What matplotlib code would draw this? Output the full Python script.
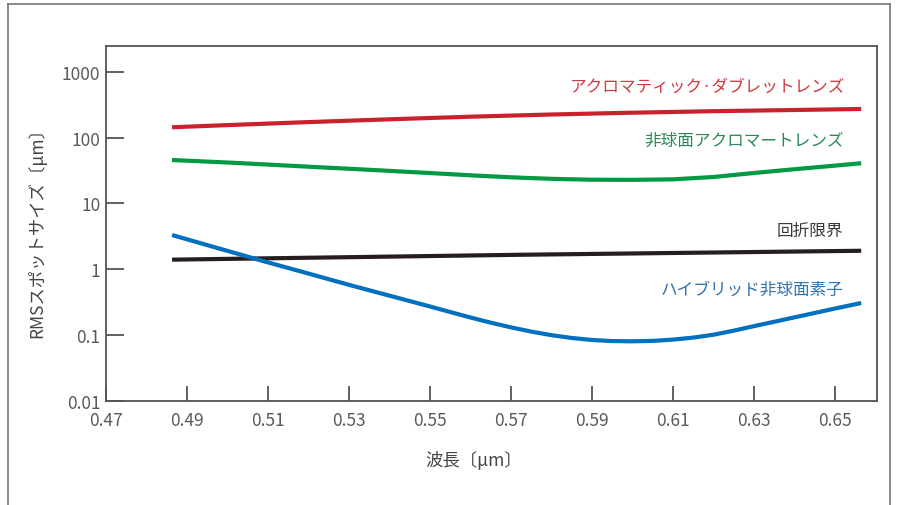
import matplotlib
matplotlib.use("Agg")
import matplotlib.pyplot as plt
from matplotlib.lines import Line2D

plt.rcParams['font.family'] = ['Noto Sans CJK JP', 'DejaVu Sans']

# wavelength (um) and RMS spot size (um)
wl_red = [0.4863, 0.50, 0.52, 0.54, 0.56, 0.58, 0.60, 0.62, 0.64, 0.6564]
doublet = [143.2, 154.6, 171.7, 189.3, 207.4, 224, 238.5, 251.4, 262.1, 271.5]

wl_green = [0.4863, 0.50, 0.51, 0.52, 0.53, 0.54, 0.55, 0.56, 0.57, 0.58,
            0.59, 0.60, 0.61, 0.62, 0.63, 0.64, 0.65, 0.6564]
asph_achromat = [45.6, 41.8, 38.9, 36.1, 33.6, 31.2, 28.9, 26.7, 24.9, 23.6,
                 22.9, 22.8, 23.2, 25.2, 29.0, 33.1, 37.5, 40.7]

wl_black = [0.4863, 0.5722, 0.6564]
diffraction = [1.40, 1.66, 1.91]

wl_blue = [0.4863, 0.49, 0.50, 0.51, 0.52, 0.53, 0.54, 0.55, 0.555, 0.56,
           0.565, 0.57, 0.575, 0.58, 0.585, 0.59, 0.595, 0.60, 0.605, 0.61,
           0.615, 0.62, 0.625, 0.63, 0.635, 0.64, 0.645, 0.65, 0.6564]
hybrid = [3.31, 2.85, 1.90, 1.27, 0.86, 0.58, 0.397, 0.272, 0.224, 0.185,
          0.1545, 0.131, 0.1131, 0.0998, 0.0905, 0.0844, 0.0812, 0.0806, 0.0818, 0.0856,
          0.0918, 0.1016, 0.1172, 0.1372, 0.160, 0.1866, 0.2177, 0.2539, 0.3076]

xticks = [0.47, 0.49, 0.51, 0.53, 0.55, 0.57, 0.59, 0.61, 0.63, 0.65]
yticks = [0.01, 0.1, 1, 10, 100, 1000]
ytick_labels = ['0.01', '0.1', '1', '10', '100', '1000']

fig = plt.figure(figsize=(9.03, 5.06), dpi=100)
ax = fig.add_axes([106 / 903, 1 - 402 / 506, 771 / 903, 355 / 506])

ax.plot(wl_red, doublet, color='#c8232c', lw=3, solid_capstyle='butt')
ax.plot(wl_green, asph_achromat, color='#009944', lw=3, solid_capstyle='butt')
ax.plot(wl_black, diffraction, color='#251e1c', lw=3, solid_capstyle='butt')
ax.plot(wl_blue, hybrid, color='#0070bf', lw=3, solid_capstyle='butt')

ax.set_yscale('log')
ax.set_xlim(0.47, 0.6603)
ax.set_ylim(0.01, 2455)
ax.set_xticks(xticks)
ax.set_xticklabels([f'{v:.2f}' for v in xticks])
ax.set_yticks(yticks)
ax.set_yticklabels(ytick_labels)
ax.minorticks_off()

for s in ax.spines.values():
    s.set_color('#555555')
    s.set_linewidth(1.3)
ax.tick_params(axis='y', direction='in', length=13, width=1.3, color='#555555',
               labelsize=12.5, labelcolor='#5a5a5a', pad=4)
ax.tick_params(axis='x', direction='in', length=11, width=1.3, color='#555555',
               labelsize=12.5, labelcolor='#5a5a5a', pad=7)

ax.set_ylabel('RMSスポットサイズ〔μm〕', fontsize=12.5, color='#444444')
ax.yaxis.set_label_coords(-0.077, 0.49)
ax.set_xlabel('波長〔μm〕', fontsize=12.5, color='#444444')
ax.xaxis.set_label_coords(0.477, -0.138)

# curve labels
ax.text(0.6525, 607, 'アクロマティック·ダブレットレンズ', ha='right', va='center',
        fontsize=12, color='#cc3a42')
ax.text(0.652, 91.8, '非球面アクロマートレンズ', ha='right', va='center',
        fontsize=12, color='#2a8a55')
ax.text(0.652, 3.95, '回折限界', ha='right', va='center',
        fontsize=12, color='#3a3a3a')
ax.text(0.652, 0.493, 'ハイブリッド非球面素子', ha='right', va='center',
        fontsize=12, color='#2f73b0')

# outer frame, open at the bottom
fc = '#777777'
fig.add_artist(Line2D([8 / 903, 8 / 903], [0, 1 - 5 / 506], color=fc, lw=1.2))
fig.add_artist(Line2D([8 / 903, 890 / 903], [1 - 5 / 506, 1 - 5 / 506], color=fc, lw=1.2))
fig.add_artist(Line2D([890 / 903, 890 / 903], [0, 1 - 5 / 506], color=fc, lw=1.2))

fig.savefig('out.png', dpi=100)
